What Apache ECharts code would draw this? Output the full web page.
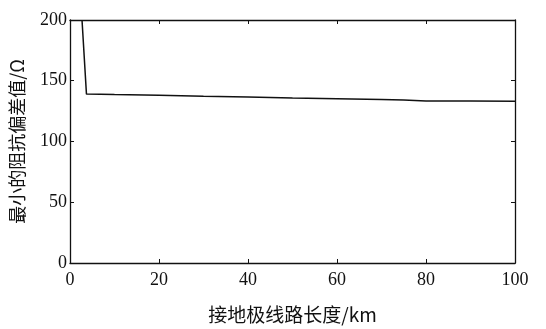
<!DOCTYPE html>
<html><head><meta charset="utf-8">
<script src="https://cdn.jsdelivr.net/npm/echarts@6/dist/echarts.min.js"></script>
<style>html,body{margin:0;padding:0;background:#fff}#c{width:546px;height:329px}</style>
</head><body><div id="c"></div>
<script>
var xValues = [2.7, 3.7, 10, 20, 30, 40, 50, 60, 70, 75, 80, 90, 100];
var yValues = [200, 139, 138.6, 138.1, 137.3, 136.6, 135.8, 135.1, 134.5, 134.2, 133.4, 133.3, 133.2];
var xTicks = [0, 20, 40, 60, 80, 100];
var yTicks = [0, 50, 100, 150, 200];
var xName = '接地极线路长度/km';
var yName = '最小的阻抗偏差值/Ω';

var chart = echarts.init(document.getElementById('c'));
var numFont = {fontFamily: 'Liberation Serif', fontSize: 18, color: '#111'};
var axisLine = {show: true, onZero: false, lineStyle: {color: '#111', width: 1.3}};
var tick = {show: true, inside: true, length: 4, lineStyle: {color: '#111', width: 1}};
chart.setOption({
  animation: false,
  grid: {left: 70, right: 31, top: 20, bottom: 61, containLabel: false},
  xAxis: [{
    type: 'value', min: 0, max: 100, interval: 20,
    axisLine: axisLine, axisTick: tick, splitLine: {show: false},
    axisLabel: Object.assign({margin: 8}, numFont),
    name: xName, nameLocation: 'middle', nameGap: 42,
    nameTextStyle: {fontFamily: 'Noto Sans CJK SC', fontSize: 19, color: '#111'}
  }, {
    type: 'value', min: 0, max: 100, interval: 20, position: 'top',
    axisLine: axisLine, axisTick: tick, axisLabel: {show: false}, splitLine: {show: false}
  }],
  yAxis: [{
    type: 'value', min: 0, max: 200, interval: 50,
    axisLine: axisLine, axisTick: tick, splitLine: {show: false},
    axisLabel: Object.assign({margin: 3}, numFont),
    name: yName, nameLocation: 'middle', nameGap: 44, nameRotate: 90,
    nameTextStyle: {fontFamily: 'Noto Sans CJK SC', fontSize: 18, color: '#111'}
  }, {
    type: 'value', min: 0, max: 200, interval: 50, position: 'right',
    axisLine: axisLine, axisTick: tick, axisLabel: {show: false}, splitLine: {show: false}
  }],
  series: [{
    type: 'line', xAxisIndex: 0, yAxisIndex: 0,
    data: xValues.map(function (x, i) { return [x, yValues[i]]; }),
    showSymbol: false, lineStyle: {color: '#111', width: 1.5}, clip: true
  }, {
    type: 'line', xAxisIndex: 1, yAxisIndex: 1, data: [], showSymbol: false
  }]
});
</script></body></html>
